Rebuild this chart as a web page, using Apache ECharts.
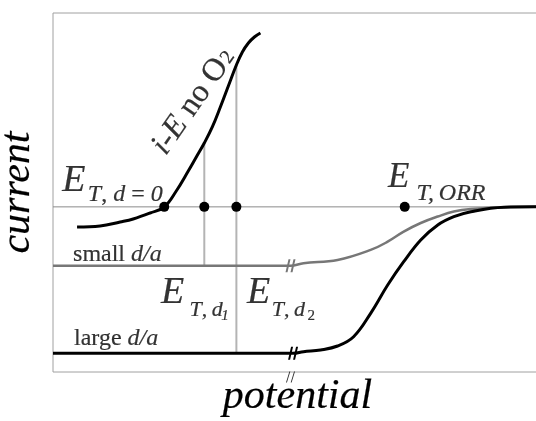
<!DOCTYPE html>
<html>
<head>
<meta charset="utf-8">
<script src="https://cdn.jsdelivr.net/npm/echarts@6/dist/echarts.min.js"></script>
<style>html,body{margin:0;padding:0;background:#fff;}#c{width:536px;height:421px;}</style>
</head>
<body>
<div id="c"></div>
<script>
// ---- data (arbitrary units: potential 0..100, current 0..100) ----
var iE_x = [4.97, 9.73, 13.87, 16.56, 20.08, 22.98, 25.47, 27.95, 29.61, 31.26, 32.92, 34.58, 36.23, 37.89, 39.13, 40.37, 41.61, 42.86];
var iE_y = [40.39, 40.67, 41.78, 42.62, 44.29, 45.96, 50.42, 55.99, 59.89, 63.79, 68.25, 73.82, 79.67, 85.52, 89.14, 91.64, 93.31, 94.43];
var small_x = [0, 49.07, 51.76, 58.8, 65.63, 69.15, 72.46, 75.98, 79.5, 82.82, 86.34, 93.17, 100];
var small_y = [29.6, 29.6, 30.3, 31.2, 34.0, 36.3, 39.1, 41.5, 43.3, 44.7, 45.4, 45.9, 46.0];
var large_x = [0, 49.6, 51.76, 55.28, 58.8, 62.11, 65.63, 69.15, 72.46, 75.98, 79.5, 82.82, 86.34, 93.17, 100];
var large_y = [5.2, 5.2, 5.65, 6.13, 7.24, 9.83, 16.35, 24.23, 30.72, 36.77, 40.95, 43.26, 44.65, 45.88, 46.0];
var baseCurrent = 46;                 // zero-current line
var ET_names = ['d0', 'd1', 'd2', 'ORR'];
var ET_values = [22.98, 31.26, 37.89, 72.67];
var d1_top = 63.79, d2_top = 85.52;   // where the drop lines meet the i-E curve
var smallPlateau = 29.6, largePlateau = 5.2;
var breakX = [49.07, 49.6, 49.07];
var breakY = [29.6, 5.2, -1.4];
var axisNames = ['potential', 'current'];

function pairs(xs, ys) { return xs.map(function (x, i) { return [x, ys[i]]; }); }

var FONT = 'Liberation Serif';
var TB = { textBorderColor: '#000', textBorderWidth: 0.2 };

function ann(x, y, formatter, size, extra) {
  var lab = Object.assign({
    show: true, position: 'inside', align: 'left', verticalAlign: 'middle',
    formatter: formatter, fontSize: size, fontFamily: FONT, color: '#000',
    rich: {
      i: Object.assign({ fontStyle: 'italic', fontSize: size, fontFamily: FONT, color: '#000' }, TB),
      r: Object.assign({ fontStyle: 'normal', fontSize: size, fontFamily: FONT, color: '#000' }, TB)
    }
  }, extra || {});
  return { value: [x, y], label: lab };
}

var annotations = [
  ann(1.9, 53.3, '{i|E}', 38),
  ann(7.2, 49.4, '{i|T}{r|, }{i|d}{r| = }{i|0}', 24),
  ann(69.2, 54.2, '{i|E}', 35),
  ann(75.1, 49.6, '{i|T,\u2009ORR}', 24),
  ann(22.3, 22.0, '{i|E}', 38),
  ann(28.2, 17.3, '{i|T}{r|,\u2009}{i|d}', 22),
  ann(34.78, 15.6, '{i|1}', 15),
  ann(40.1, 22.0, '{i|E}', 38),
  ann(45.2, 17.3, '{i|T}{r|,\u2009}{i|d}', 22),
  ann(52.59, 15.6, '{r|2}', 15),
  ann(4.14, 32.6, '{r|small }{i|d/a}', 24),
  ann(4.35, 9.2, '{r|large }{i|d/a}', 24),
  ann(28.4, 74.0, '{i|i-E}{r| no O}', 32, { align: 'center', rotate: 55 }),
  ann(36.1, 87.6, '{r|2}', 20, { align: 'center', rotate: 55 })
];

var breakPath = 'path://M3,0 L5,0 L2,12 L0,12 Z M8,0 L10,0 L7,12 L5,12 Z';
var breakPathThin = 'path://M3.6,0 L4.6,0 L1,12 L0,12 Z M8.6,0 L9.6,0 L6,12 L5,12 Z';

var nameStyle = Object.assign({ fontSize: 42, fontStyle: 'italic', fontFamily: FONT, color: '#000' }, TB);

var option = {
  animation: false,
  backgroundColor: '#ffffff',
  grid: { left: 53, right: -1, top: 13, bottom: 49, containLabel: false, outerBoundsMode: 'none',
    show: true, borderColor: '#a0a0a0', borderWidth: 1, backgroundColor: 'transparent' },
  xAxis: {
    type: 'value', min: 0, max: 100,
    axisLine: { show: false }, axisTick: { show: false }, axisLabel: { show: false }, splitLine: { show: false },
    name: axisNames[0], nameLocation: 'middle', nameGap: 4,
    nameTextStyle: Object.assign({ padding: [0, 0, 0, 5] }, nameStyle)
  },
  yAxis: {
    type: 'value', min: 0, max: 100,
    axisLine: { show: false }, axisTick: { show: false }, axisLabel: { show: false }, splitLine: { show: false },
    name: axisNames[1], nameLocation: 'middle', nameGap: 14, nameTextStyle: nameStyle
  },
  series: [
    { type: 'line', data: [[0, baseCurrent], [100, baseCurrent]], symbol: 'none', silent: true, z: 1,
      lineStyle: { color: '#8a8a8a', width: 1 } },
    { type: 'line', data: [[ET_values[1], d1_top], [ET_values[1], smallPlateau]], symbol: 'none', silent: true, z: 2,
      lineStyle: { color: '#b4b4b4', width: 2 } },
    { type: 'line', data: [[ET_values[2], d2_top], [ET_values[2], largePlateau]], symbol: 'none', silent: true, z: 2,
      lineStyle: { color: '#b4b4b4', width: 2 } },
    { type: 'line', data: pairs(small_x, small_y), smooth: 0.4, symbol: 'none', silent: true, z: 3,
      lineStyle: { color: '#777777', width: 2.5 } },
    { type: 'line', data: pairs(large_x, large_y), smooth: 0.4, symbol: 'none', silent: true, z: 3,
      lineStyle: { color: '#000000', width: 3 } },
    { type: 'line', data: pairs(iE_x, iE_y), smooth: 0.4, symbol: 'none', silent: true, z: 3,
      lineStyle: { color: '#000000', width: 3 } },
    { type: 'scatter', data: ET_values.map(function (v) { return [v, baseCurrent]; }), symbolSize: 10, silent: true, z: 5,
      itemStyle: { color: '#000', opacity: 1 } },
    { type: 'scatter', clip: false, silent: true, z: 6,
      data: [
        { value: [breakX[0], breakY[0]], symbol: breakPath, symbolSize: [10, 13], itemStyle: { color: '#777', opacity: 1 } },
        { value: [breakX[1], breakY[1]], symbol: breakPath, symbolSize: [10, 13], itemStyle: { color: '#000', opacity: 1 } },
        { value: [breakX[2], breakY[2]], symbol: breakPathThin, symbolSize: [9, 11], itemStyle: { color: '#333', opacity: 1 } }
      ] },
    { type: 'scatter', clip: false, silent: true, z: 10, symbolSize: 1,
      itemStyle: { color: 'rgba(0,0,0,0)' }, data: annotations }
  ]
};

var chart = echarts.init(document.getElementById('c'), null, { renderer: 'canvas' });
chart.setOption(option);
</script>
</body>
</html>
